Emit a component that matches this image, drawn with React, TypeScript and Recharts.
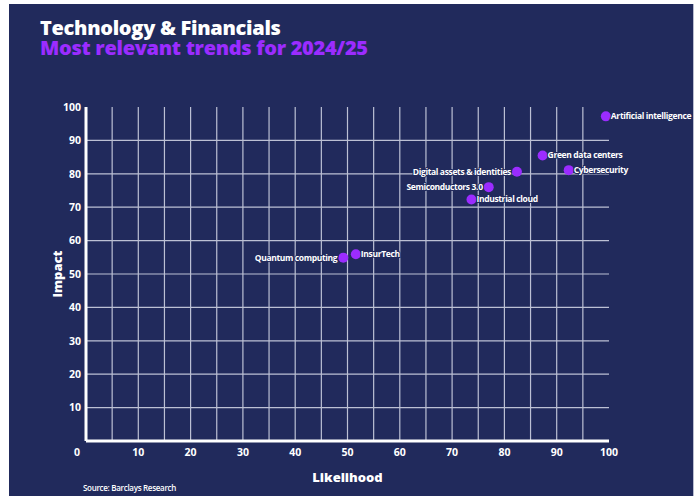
import React from 'react';
import { ScatterChart, Scatter, XAxis, YAxis, CartesianGrid } from 'recharts';

const trendNames = [
  'Artificial intelligence',
  'Green data centers',
  'Cybersecurity',
  'Digital assets & identities',
  'Semiconductors 3.0',
  'Industrial cloud',
  'InsurTech',
  'Quantum computing',
];
const likelihood = [99.4, 87.3, 92.3, 82.4, 77.0, 73.7, 51.6, 49.2];
const impact = [97.2, 85.5, 81.1, 80.6, 76.0, 72.3, 55.9, 54.9];

const xTicks = [0, 10, 20, 30, 40, 50, 60, 70, 80, 90, 100];
const yTicks = [10, 20, 30, 40, 50, 60, 70, 80, 90, 100];
const gridX = [5, 10, 15, 20, 25, 30, 35, 40, 45, 50, 55, 60, 65, 70, 75, 80, 85, 90, 95];
const gridY = [10, 20, 30, 40, 50, 60, 70, 80, 90];

const leftLabeled = ['Digital assets & identities', 'Semiconductors 3.0', 'Quantum computing'];

const title = 'Technology & Financials';
const subtitle = 'Most relevant trends for 2024/25';
const source = 'Source: Barclays Research';

const NAVY = '#212a5c';
const PURPLE = '#9b2cff';
const FONT = '"Open Sans", Lato, sans-serif';

const data = trendNames.map((name, i) => ({ name, x: likelihood[i], y: impact[i] }));

const TrendDot = (props: any) => {
  const { cx, cy, payload } = props;
  if (cx == null || cy == null) return null;
  const left = leftLabeled.includes(payload.name);
  return (
    <g>
      <circle cx={cx} cy={cy} r={5} fill={PURPLE} />
      <text
        x={left ? cx - 6 : cx + 5}
        y={cy}
        dy="0.35em"
        textAnchor={left ? 'end' : 'start'}
        fill="#ffffff"
        stroke={NAVY}
        strokeWidth={2}
        paintOrder="stroke"
        fontFamily={FONT}
        fontWeight={700}
        fontSize={8.5}
        letterSpacing={-0.35}
      >
        {payload.name}
      </text>
    </g>
  );
};

const XTick = (props: any) => {
  const { x, y, payload } = props;
  return (
    <text
      x={payload.value === 0 ? x - 9 : x}
      y={y}
      dy="0.71em"
      textAnchor="middle"
      fill="#ffffff"
      fontFamily={FONT}
      fontWeight={700}
      fontSize={10.5}
    >
      {payload.value}
    </text>
  );
};

export default function App() {
  return (
    <div style={{ position: 'absolute', left: 0, top: 0, width: 699, height: 496, background: '#ffffff', overflow: 'hidden' }}>
      <div style={{ position: 'absolute', left: 9, top: 4, width: 684, height: 492, background: NAVY, borderRight: '1px solid #b9bdd0' }} />
      <div style={{ position: 'absolute', left: 0, top: 0 }}>
        <ScatterChart width={699} height={496} margin={{ top: 107, right: 90, bottom: 10, left: 28 }}>
          <CartesianGrid
            stroke="#bcc0d4"
            strokeWidth={1.2}
            verticalValues={gridX}
            horizontalValues={gridY}
          />
          <XAxis
            type="number"
            dataKey="x"
            domain={[0, 100]}
            ticks={xTicks}
            interval={0}
            tickLine={false}
            tickSize={0}
            tickMargin={8}
            height={45}
            axisLine={{ stroke: '#ffffff', strokeWidth: 3 }}
            tick={<XTick />}
            label={{
              value: 'Likelihood',
              position: 'insideBottom',
              offset: 4,
              fill: '#ffffff',
              fontSize: 13,
              fontWeight: 800,
              fontFamily: FONT,
            }}
          />
          <YAxis
            type="number"
            dataKey="y"
            domain={[0, 100]}
            ticks={yTicks}
            interval={0}
            width={58}
            tickLine={false}
            tickSize={0}
            tickMargin={5}
            axisLine={{ stroke: '#ffffff', strokeWidth: 3 }}
            tick={{ fill: '#ffffff', fontSize: 10.5, fontWeight: 700, fontFamily: FONT }}
            label={{
              value: 'Impact',
              angle: -90,
              position: 'center',
              fill: '#ffffff',
              fontSize: 13,
              fontWeight: 800,
              fontFamily: FONT,
            }}
          />
          <Scatter data={data} shape={<TrendDot />} isAnimationActive={false} />
        </ScatterChart>
      </div>
      <svg width={699} height={496} style={{ position: 'absolute', left: 0, top: 0, pointerEvents: 'none' }}>
        <text x={40} y={35} fill="#ffffff" fontFamily={FONT} fontWeight={800} fontSize={20} letterSpacing={-0.3}>
          {title}
        </text>
        <text x={40} y={55} fill={PURPLE} fontFamily={FONT} fontWeight={800} fontSize={20} letterSpacing={-0.3}>
          {subtitle}
        </text>
        <text x={83} y={491} fill="#ffffff" fontFamily={FONT} fontWeight={600} fontSize={8} letterSpacing={-0.3}>
          {source}
        </text>
      </svg>
    </div>
  );
}
